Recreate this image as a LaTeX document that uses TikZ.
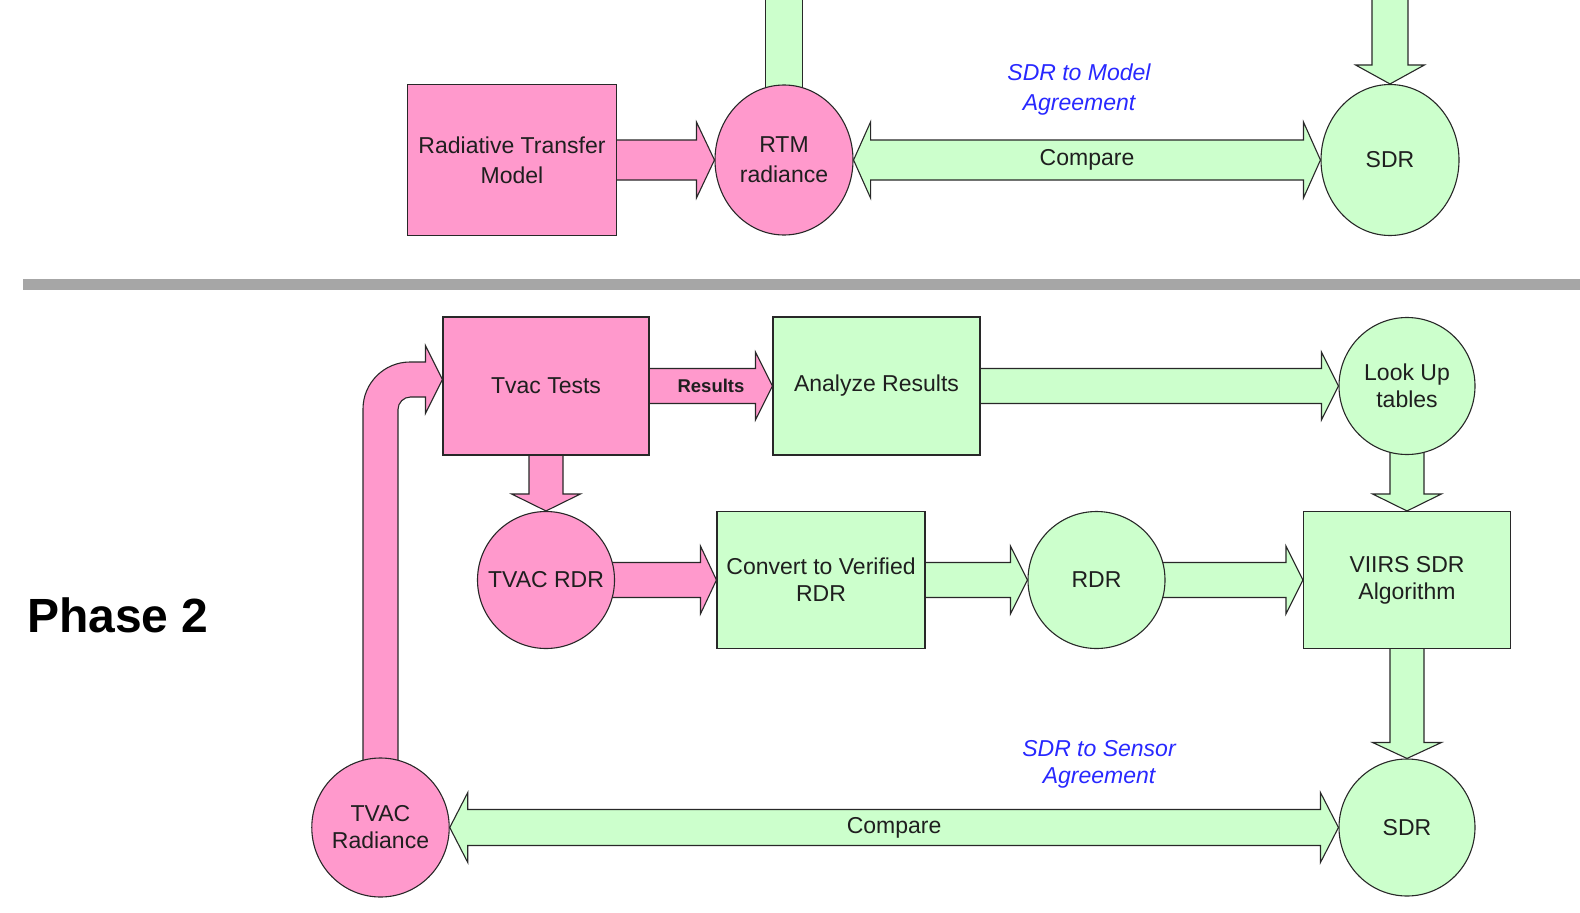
\documentclass[tikz,border=0pt]{standalone}
\usepackage{fontspec}
\setmainfont{Liberation Sans}
\usetikzlibrary{calc,shapes.geometric,backgrounds}

\definecolor{pinkfill}{RGB}{255,153,204}
\definecolor{greenfill}{RGB}{204,255,204}
\definecolor{edgegray}{RGB}{40,40,40}
\definecolor{labelblue}{RGB}{40,40,255}
\definecolor{rulegray}{RGB}{166,166,166}

% block arrow: [style]{from}{to}{shaft half width}{head half width}{head length}
\newcommand\blockarrow[6][]{%
  \path (#2) coordinate (bas) (#3) coordinate (bat);
  \path ($(bat)!#6!(bas)$) coordinate (bab);
  \draw[#1] ($(bas)!#4!90:(bat)$) -- ($(bab)!#4!-90:(bas)$) -- ($(bab)!#5!-90:(bas)$)
    -- (bat) -- ($(bab)!#5!90:(bas)$) -- ($(bab)!#4!90:(bas)$) -- ($(bas)!#4!-90:(bat)$) -- cycle;}

% double-headed block arrow
\newcommand\dblockarrow[6][]{%
  \path (#2) coordinate (bas) (#3) coordinate (bat);
  \path ($(bat)!#6!(bas)$) coordinate (bab) ($(bas)!#6!(bat)$) coordinate (baa);
  \draw[#1] (bas) -- ($(baa)!#5!90:(bat)$) -- ($(baa)!#4!90:(bat)$) -- ($(bab)!#4!-90:(bas)$)
    -- ($(bab)!#5!-90:(bas)$) -- (bat) -- ($(bab)!#5!90:(bas)$) -- ($(bab)!#4!90:(bas)$)
    -- ($(baa)!#4!-90:(bat)$) -- ($(baa)!#5!-90:(bat)$) -- cycle;}

\tikzset{
  outline/.style={draw=edgegray, line width=1.1pt},
  block/.style={outline, rectangle, inner sep=2pt, align=center, text=black!88,
    font=\fontsize{23}{27}\selectfont},
  disc/.style={outline, ellipse, inner sep=0pt, align=center, text=black!88,
    font=\fontsize{23}{27}\selectfont},
  pinkblock/.style={block, fill=pinkfill},
  greenblock/.style={block, fill=greenfill},
  pinkdisc/.style={disc, fill=pinkfill},
  greendisc/.style={disc, fill=greenfill},
  parrow/.style={outline, fill=pinkfill, line join=miter},
  garrow/.style={outline, fill=greenfill, line join=miter},
  agreement/.style={text=labelblue, align=center, font=\fontsize{23}{30}\selectfont\itshape},
  arrowtext/.style={text=black!88, font=\fontsize{23}{27}\selectfont},
}

\begin{document}
\begin{tikzpicture}[x=1pt,y=-1pt]
\useasboundingbox (0,0) rectangle (1580,913);

% ---------- upper part ----------
\node[pinkblock, minimum width=209pt, minimum height=151pt, font=\fontsize{23}{30}\selectfont]
  (rtmodel) at (512,160) {Radiative Transfer\\Model};
\node[pinkdisc, minimum width=138pt, minimum height=150pt, font=\fontsize{23}{30}\selectfont]
  (rtm) at (784,160) {RTM\\radiance};
\node[greendisc, minimum width=138pt, minimum height=151pt] (sdrtop) at (1390,160) {SDR};
\coordinate (feedA) at (784,-10);
\coordinate (feedB) at (1390,-10);

\node[agreement] (modelagr) at (1079,90) {SDR to Model\\Agreement};

% separator
\fill[rulegray] (23,279) rectangle (1580,290);

% ---------- Phase 2 ----------
\node[anchor=base west, inner sep=0pt, font=\fontsize{48}{56}\selectfont\bfseries]
  (phase) at (27,632) {Phase 2};

\node[pinkblock, minimum width=206pt, minimum height=138pt] (tvac) at (546,386) {Tvac Tests};
\node[greenblock, minimum width=207pt, minimum height=138pt] (analyze) at (876.5,386) {Analyze Results};
\node[greendisc, minimum width=136pt, minimum height=137pt] (lut) at (1407,386) {Look Up\\tables};
\node[pinkdisc, minimum width=137pt, minimum height=137pt, inner xsep=-14pt] (tvacrdr) at (546,580) {TVAC RDR};
\node[greenblock, minimum width=208pt, minimum height=137pt] (convert) at (821,580) {Convert to Verified\\RDR};
\node[greendisc, minimum width=137pt, minimum height=137pt] (rdr) at (1096.5,580) {RDR};
\node[greenblock, minimum width=207pt, minimum height=137pt] (viirs) at (1407,580) {VIIRS SDR\\Algorithm};
\node[greendisc, minimum width=136pt, minimum height=137pt] (sdrbot) at (1407,827.5) {SDR};
\node[pinkdisc, minimum width=137pt, minimum height=139pt] (tvacrad) at (380.5,827.5) {TVAC\\Radiance};

\node[agreement, font=\fontsize{23}{27}\selectfont\itshape] (sensoragr) at (1099,764.5) {SDR to Sensor\\Agreement};

% ---------- connectors, behind the shapes ----------
\begin{pgfonlayer}{background}
  % upper part
  \draw[garrow] ($(feedA)+(-18.5,0)$) rectangle ($(rtm.center)+(18.5,0)$);
  \blockarrow[garrow]{feedB}{sdrtop.north}{18pt}{34.5pt}{19pt}
  \blockarrow[parrow]{rtmodel.center}{rtm.west}{20pt}{38pt}{18pt}
  \dblockarrow[garrow]{rtm.east}{sdrtop.west}{20pt}{38pt}{17pt}

  % Phase 2
  \blockarrow[parrow]{tvac.center}{analyze.west}{17.5pt}{34pt}{17pt}
  \blockarrow[parrow]{tvac.center}{tvacrdr.north}{17pt}{34.5pt}{17pt}
  \blockarrow[garrow]{analyze.center}{lut.west}{17.5pt}{34pt}{17pt}
  \blockarrow[garrow]{lut.center}{viirs.north}{17pt}{34.5pt}{17pt}
  \blockarrow[parrow]{tvacrdr.center}{convert.west}{17.5pt}{34pt}{16pt}
  \blockarrow[garrow]{convert.center}{rdr.west}{17.5pt}{34pt}{17pt}
  \blockarrow[garrow]{rdr.center}{viirs.west}{17.5pt}{34pt}{17pt}
  \blockarrow[garrow]{viirs.center}{sdrbot.north}{17pt}{34.5pt}{16pt}
  \dblockarrow[garrow]{tvacrad.east}{sdrbot.west}{18pt}{35pt}{18pt}

  % bent arrow from TVAC Radiance up into Tvac Tests
  \coordinate (tvacin) at ($(tvac.west)+(0,-6.5)$);
  \coordinate (bend) at (tvacrad.center |- tvacin);
  \draw[parrow] ($(tvacrad.center)+(-17.5,0)$) -- ($(bend)+(-17.5,29.5)$)
    arc[start angle=180, end angle=90, radius=47pt]
    -- ($(tvacin)+(-17,-17.5)$) -- ($(tvacin)+(-17,-34)$) -- (tvacin)
    -- ($(tvacin)+(-17,34)$) -- ($(tvacin)+(-17,17.5)$) -- ($(bend)+(30,17.5)$)
    arc[start angle=90, end angle=180, radius=12.5pt]
    -- ($(tvacrad.center)+(17.5,0)$) -- cycle;
\end{pgfonlayer}

% arrow labels
\node[arrowtext] (cmptop) at ($(rtm.east)!0.5!(sdrtop.west)$) {Compare};
\node[arrowtext] (cmpbot) at ($(tvacrad.east)!0.5!(sdrbot.west)$) {Compare};
\node[text=black!88, font=\fontsize{18.5}{22}\selectfont\bfseries] (results)
  at ($(tvac.east)!0.5!(analyze.west)$) {Results};
\end{tikzpicture}
\end{document}
